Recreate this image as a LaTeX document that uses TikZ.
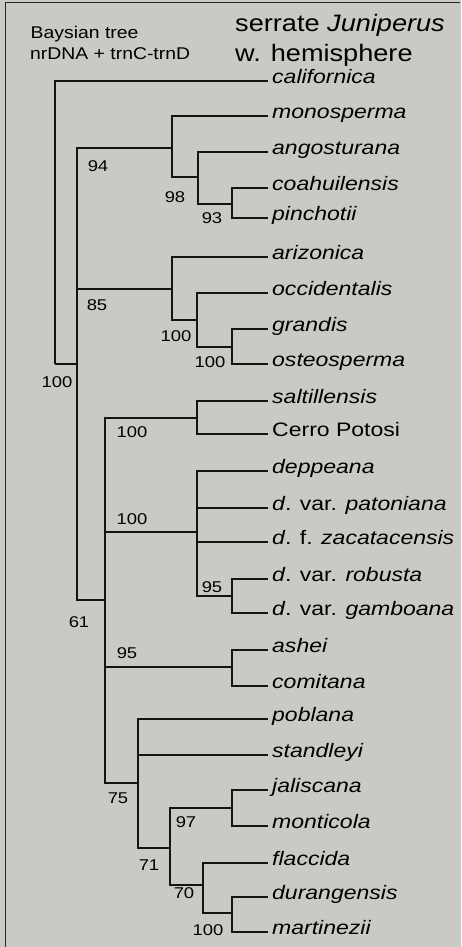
\documentclass[tikz,border=0pt]{standalone}
\usepackage{fontspec}
\setmainfont[FakeStretch=1.18]{Liberation Sans}
\newfontfamily\headfont[FakeStretch=1.14]{Liberation Sans}
\begin{document}
\begin{tikzpicture}[x=1pt,y=-1pt,
  br/.style={draw=black!92,line width=1.4pt},
  leaf/.style={anchor=mid west,inner xsep=4pt,inner ysep=0pt,font=\fontsize{19.5}{20}\selectfont\itshape,text=black},
  supp/.style={inner sep=0pt,font=\fontsize{15.6}{16}\selectfont,text=black}]
\definecolor{bgc}{RGB}{201,202,197}
\fill[bgc] (0,0) rectangle (461,947);
\useasboundingbox (0,0) rectangle (461,947);
\draw[black!85,line width=1.4pt] (5.5,947) -- (5.5,2.5) -- (460,2.5);
% titles
\node[anchor=base west,inner sep=0pt,font=\headfont\fontsize{17}{18}\selectfont,text=black] (t1) at (30.5,38.3) {Baysian tree};
\node[anchor=base west,inner sep=0pt,font=\headfont\fontsize{17}{18}\selectfont,text=black] (t2) at (30,59.3) {nrDNA + trnC-trnD};
\node[anchor=base west,inner sep=0pt,font=\headfont\fontsize{23.8}{25}\selectfont,text=black] (t3) at (235,31.7) {serrate \textit{Juniperus}};
\node[anchor=base west,inner sep=0pt,font=\headfont\fontsize{23.8}{25}\selectfont,text=black] (t4) at (235,61.7) {w. hemisphere};
% leaves
\node[leaf] (californica) at (268,81) {californica};
\node[leaf] (monosperma) at (268,116) {monosperma};
\node[leaf] (angosturana) at (268,152) {angosturana};
\node[leaf] (coahuilensis) at (268,188) {coahuilensis};
\node[leaf] (pinchotii) at (268,218) {pinchotii};
\node[leaf] (arizonica) at (268,257) {arizonica};
\node[leaf] (occidentalis) at (268,293) {occidentalis};
\node[leaf] (grandis) at (268,329) {grandis};
\node[leaf] (osteosperma) at (268,364) {osteosperma};
\node[leaf] (saltillensis) at (268,401) {saltillensis};
\node[leaf,font=\fontsize{19.5}{20}\selectfont\upshape] (cerro) at (268,434) {Cerro Potosi};
\node[leaf] (deppeana) at (268,471) {deppeana};
\node[leaf] (patoniana) at (268,508) {d\upshape. var. \itshape patoniana};
\node[leaf] (zacatacensis) at (268,542) {d\upshape. f. \itshape zacatacensis};
\node[leaf] (robusta) at (268,579) {d\upshape. var. \itshape robusta};
\node[leaf] (gamboana) at (268,613) {d\upshape. var. \itshape gamboana};
\node[leaf] (ashei) at (268,650) {ashei};
\node[leaf] (comitana) at (268,686) {comitana};
\node[leaf] (poblana) at (268,719) {poblana};
\node[leaf] (standleyi) at (268,755) {standleyi};
\node[leaf] (jaliscana) at (268,790) {jaliscana};
\node[leaf] (monticola) at (268,826) {monticola};
\node[leaf] (flaccida) at (268,863) {flaccida};
\node[leaf] (durangensis) at (268,897) {durangensis};
\node[leaf] (martinezii) at (268,932) {martinezii};
% internal nodes
\coordinate (R) at (55,364);
\coordinate (A) at (77,364);
\coordinate (B) at (172,148);
\coordinate (E) at (198,177);
\coordinate (F) at (232,204);
\coordinate (C) at (172,289);
\coordinate (G) at (197,320);
\coordinate (H) at (232,347);
\coordinate (D) at (105,600);
\coordinate (I) at (197,418);
\coordinate (J) at (197,532);
\coordinate (M) at (232,596);
\coordinate (K) at (232,667);
\coordinate (L) at (138,783);
\coordinate (N) at (170,848);
\coordinate (O) at (232,808);
\coordinate (P) at (203,885);
\coordinate (Q) at (232,913);
% branches
\draw[br] (R) |- (californica.mid west);
\draw[br] (R) -- (A);
\draw[br] (A) |- (B);
\draw[br] (A) |- (C);
\draw[br] (A) |- (D);
\draw[br] (B) |- (monosperma.mid west);
\draw[br] (B) |- (E);
\draw[br] (E) |- (angosturana.mid west);
\draw[br] (E) |- (F);
\draw[br] (F) |- (coahuilensis.mid west);
\draw[br] (F) |- (pinchotii.mid west);
\draw[br] (C) |- (arizonica.mid west);
\draw[br] (C) |- (G);
\draw[br] (G) |- (occidentalis.mid west);
\draw[br] (G) |- (H);
\draw[br] (H) |- (grandis.mid west);
\draw[br] (H) |- (osteosperma.mid west);
\draw[br] (D) |- (I);
\draw[br] (D) |- (J);
\draw[br] (D) |- (K);
\draw[br] (D) |- (L);
\draw[br] (I) |- (saltillensis.mid west);
\draw[br] (I) |- (cerro.mid west);
\draw[br] (J) |- (deppeana.mid west);
\draw[br] (J) |- (patoniana.mid west);
\draw[br] (J) |- (zacatacensis.mid west);
\draw[br] (J) |- (M);
\draw[br] (M) |- (robusta.mid west);
\draw[br] (M) |- (gamboana.mid west);
\draw[br] (K) |- (ashei.mid west);
\draw[br] (K) |- (comitana.mid west);
\draw[br] (L) |- (poblana.mid west);
\draw[br] (L) |- (standleyi.mid west);
\draw[br] (L) |- (N);
\draw[br] (N) |- (O);
\draw[br] (N) |- (P);
\draw[br] (O) |- (jaliscana.mid west);
\draw[br] (O) |- (monticola.mid west);
\draw[br] (P) |- (flaccida.mid west);
\draw[br] (P) |- (Q);
\draw[br] (Q) |- (durangensis.mid west);
\draw[br] (Q) |- (martinezii.mid west);
% support values
\node[supp] (sR) at (57,382) {100};
\node[supp] (sB) at (98,166) {94};
\node[supp] (sE) at (175,197) {98};
\node[supp] (sF) at (212,218) {93};
\node[supp] (sC) at (97,305) {85};
\node[supp] (sG) at (176,336) {100};
\node[supp] (sH) at (210,362) {100};
\node[supp] (sD) at (79,622) {61};
\node[supp] (sI) at (132,432) {100};
\node[supp] (sJ) at (132,519) {100};
\node[supp] (sM) at (212,587) {95};
\node[supp] (sK) at (127,653) {95};
\node[supp] (sL) at (118,798) {75};
\node[supp] (sN) at (149,865) {71};
\node[supp] (sO) at (186,822) {97};
\node[supp] (sP) at (184,893) {70};
\node[supp] (sQ) at (208,930) {100};
\end{tikzpicture}
\end{document}
